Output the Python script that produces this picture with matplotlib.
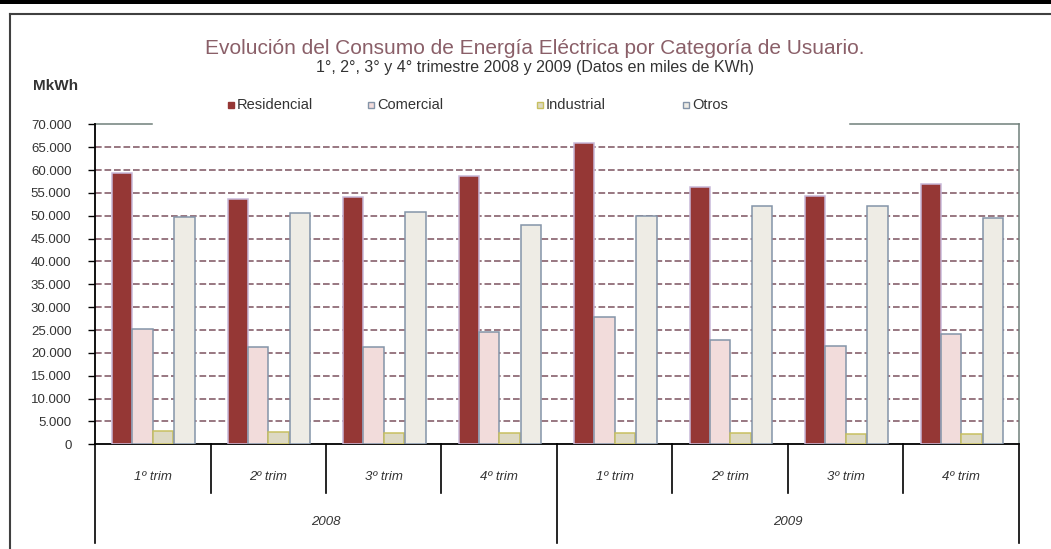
import numpy as np
import matplotlib
matplotlib.use("Agg")
import matplotlib.pyplot as plt
from matplotlib.lines import Line2D
from matplotlib.patches import Rectangle

trimestres = ["1º trim", "2º trim", "3º trim", "4º trim", "1º trim", "2º trim", "3º trim", "4º trim"]
years = ["2008", "2009"]
series_names = ["Residencial", "Comercial", "Industrial", "Otros"]
residencial = [59400, 53700, 54200, 58700, 65900, 56200, 54400, 57000]
comercial = [25300, 21200, 21200, 24600, 27900, 22900, 21500, 24100]
industrial = [2900, 2600, 2500, 2500, 2500, 2500, 2200, 2200]
otros = [49700, 50500, 50900, 47900, 50000, 52200, 52200, 49600]

fills = ["#953735", "#F2DCDB", "#DDD9C3", "#EEECE5"]
edges = ["#C8B8D8", "#8494A8", "#C8C060", "#8494A8"]
txt = "#333333"

plt.rcParams['font.family'] = ['Liberation Sans', 'DejaVu Sans']

fig = plt.figure(figsize=(10.51, 5.49), dpi=100)
W, H = 1051, 549
ax = fig.add_axes([95 / W, 1 - 444.3 / H, (1019 - 95) / W, (444.3 - 124.3) / H])

x = np.arange(len(trimestres))
w = 0.176
data = [residencial, comercial, industrial, otros]
for i, vals in enumerate(data):
    off = (i - 1.5) * w + (0.012 if i == 3 else 0)
    ax.bar(x + off, vals, width=w, color=fills[i], edgecolor=edges[i],
           linewidth=1.1, zorder=3, label=series_names[i])

ax.set_xlim(-0.5, len(trimestres) - 0.5)
ax.set_ylim(0, 70000)
ax.set_yticks(np.arange(0, 70001, 5000))
ax.set_yticklabels([f"{v:,}".replace(",", ".") for v in range(0, 70001, 5000)],
                   fontsize=9.5, color=txt)
ax.tick_params(axis='y', direction='out', length=5, width=1, color='black', pad=12)
ax.set_xticks([])

for v in range(5000, 70000, 5000):
    ax.axhline(v, color="#86606C", linewidth=1.2, linestyle=(0, (4, 1.7)), zorder=1)

ax.spines['top'].set_visible(False)
ax.spines['left'].set_color('black')
ax.spines['left'].set_linewidth(1.3)
ax.spines['bottom'].set_color('black')
ax.spines['bottom'].set_linewidth(1.3)
ax.spines['right'].set_color('#70807A')
ax.spines['right'].set_linewidth(1.1)

# top border of plot area (partly hidden behind legend)
ax.plot([0, (152 - 95) / 924], [1, 1], transform=ax.transAxes, color='#70807A', lw=1.1, clip_on=False)
ax.plot([(850 - 95) / 924, 1], [1, 1], transform=ax.transAxes, color='#70807A', lw=1.1, clip_on=False)

# multi-level category axis
tr = ax.get_xaxis_transform()
short = -(492.7 - 444.3) / 320
long_ = -(543 - 444.3) / 320
for k in range(len(trimestres) + 1):
    b = k - 0.5
    yb = long_ if k in (0, 4, 8) else short
    ax.plot([b, b], [0, yb], transform=tr, color='black', lw=1.2, clip_on=False)
for k, lab in enumerate(trimestres):
    ax.text(x[k], -(476.7 - 444.3) / 320, lab, transform=tr, ha='center', va='center',
            fontsize=9.5, style='italic', color=txt)
for j, yr in enumerate(years):
    ax.text(1.5 + 4 * j, -(522 - 444.3) / 320, yr, transform=tr, ha='center', va='center',
            fontsize=9.5, style='italic', color=txt)

# outer frame
fig.add_artist(Rectangle((0, 1 - 4 / H), 1, 4 / H, transform=fig.transFigure, color='black', lw=0))
fig.add_artist(Line2D([10 / W, 1], [1 - 14 / H, 1 - 14 / H], transform=fig.transFigure, color='#404040', lw=1.5))
fig.add_artist(Line2D([10 / W, 10 / W], [1 - 14 / H, 0], transform=fig.transFigure, color='#404040', lw=1.5))

# titles
fig.text(535 / W, 1 - 48 / H, "Evolución del Consumo de Energía Eléctrica por Categoría de Usuario.",
         ha='center', va='center', fontsize=15, color='#8A5F68')
fig.text(535 / W, 1 - 67 / H, "1°, 2°, 3° y 4° trimestre 2008 y 2009 (Datos en miles de KWh)",
         ha='center', va='center', fontsize=11.5, color=txt)
fig.text(33 / W, 1 - 86 / H, "MkWh", ha='left', va='center', fontsize=11, fontweight='bold', color=txt)

# legend
leg_x = [228, 368, 537, 683]
for i, name in enumerate(series_names):
    lx = leg_x[i] / W
    ly = 1 - 105 / H
    s = 6
    fig.add_artist(Rectangle((lx, ly - s / 2 / H), s / W, s / H, transform=fig.transFigure,
                             facecolor=fills[i], edgecolor=edges[i] if i else fills[i], lw=1))
    fig.text(lx + 9 / W, ly, name, ha='left', va='center', fontsize=10.5, color=txt)

fig.savefig("out.png", dpi=100)
